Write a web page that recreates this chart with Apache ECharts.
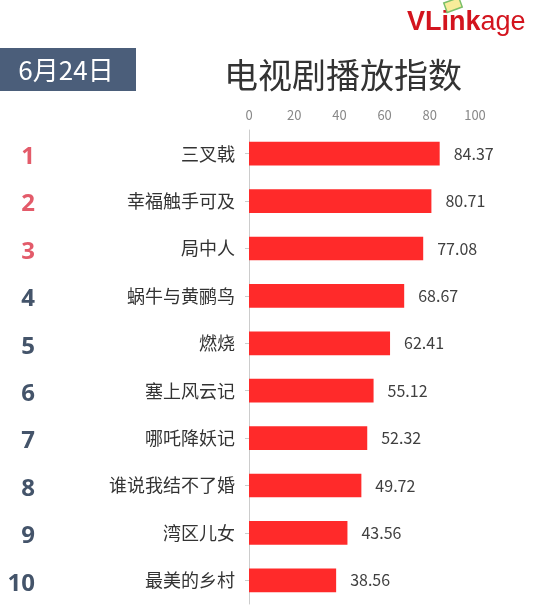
<!DOCTYPE html>
<html><head><meta charset="utf-8">
<script src="https://cdn.jsdelivr.net/npm/echarts@6/dist/echarts.min.js"></script>
<style>html,body{margin:0;padding:0;background:#fff}#c{width:545px;height:608px}</style>
</head><body><div id="c"></div>
<script>
const categories = ['三叉戟','幸福触手可及','局中人','蜗牛与黄鹂鸟','燃烧','塞上风云记','哪吒降妖记','谁说我结不了婚','湾区儿女','最美的乡村'];
const values = [84.37,80.71,77.08,68.67,62.41,55.12,52.32,49.72,43.56,38.56];
const ranks = ['1','2','3','4','5','6','7','8','9','10'];
const xTicks = [0,20,40,60,80,100];
const title = '电视剧播放指数';
const dateText = '6月24日';

const FONT = '"Noto Sans CJK SC","Microsoft YaHei",sans-serif';
const RANKFONT = '"Open Sans",sans-serif';
const chart = echarts.init(document.getElementById('c'), null, {renderer:'canvas'});
chart.setOption({
  animation:false,
  backgroundColor:'#fff',
  textStyle:{fontFamily:FONT},
  graphic:[
    {type:'text',x:343,y:75,style:{text:title,fill:'#333',fontSize:34,fontFamily:FONT,align:'center',verticalAlign:'middle'}},
    {type:'rect',shape:{x:0,y:48,width:136,height:43},style:{fill:'#4b5e7a'}},
    {type:'text',x:66,y:70,style:{text:dateText,fill:'#fff',fontSize:26,fontFamily:FONT,align:'center',verticalAlign:'middle'}},
    {type:'text',x:407,y:23,style:{text:'{a|VLink}{b|age}',verticalAlign:'middle',rich:{
      a:{fontSize:27,fontWeight:'bold',fill:'#d3141e',fontFamily:'Arial,"Liberation Sans",sans-serif'},
      b:{fontSize:27,fill:'#d3141e',fontFamily:'Arial,"Liberation Sans",sans-serif'}}}},
    {type:'rect',shape:{x:445,y:0,width:16,height:10},rotation:0.35,originX:453,originY:5,style:{fill:'#f8ec9a',stroke:'#7bbf6a',lineWidth:1.5}}
  ],
  grid:{left:249,right:70,top:130,bottom:4,containLabel:false},
  xAxis:{type:'value',position:'top',min:0,max:100,interval:20,
    axisLine:{show:false},axisTick:{show:false},splitLine:{show:false},
    axisLabel:{color:'#888',fontSize:13,margin:8,formatter:v=>xTicks.includes(v)?String(v):''}},
  yAxis:[
    {type:'category',data:categories,inverse:true,
     axisLine:{show:true,lineStyle:{color:'#ccc'}},
     axisTick:{show:true,alignWithLabel:true,length:4,lineStyle:{color:'#ccc'}},
     axisLabel:{color:'#333',fontSize:18,margin:14,fontFamily:FONT}},
    {type:'category',data:ranks,inverse:true,position:'left',
     axisLine:{show:false},axisTick:{show:false},
     axisLabel:{margin:214,align:'right',
       formatter:v=>(Number(v)<=3?'{t|':'{o|')+v+'}',
       rich:{
         t:{fontSize:24,fontWeight:'bold',fontFamily:RANKFONT,color:'#e35b6a',padding:[7,0,0,0]},
         o:{fontSize:24,fontWeight:'bold',fontFamily:RANKFONT,color:'#44546a',padding:[7,0,0,0]}
       }}}
  ],
  series:[{type:'bar',data:values,yAxisIndex:0,barWidth:'50%',
    itemStyle:{color:'#ff2a2a'},
    label:{show:true,position:'right',distance:14,color:'#404040',fontSize:16,fontFamily:FONT}}]
});
</script></body></html>
